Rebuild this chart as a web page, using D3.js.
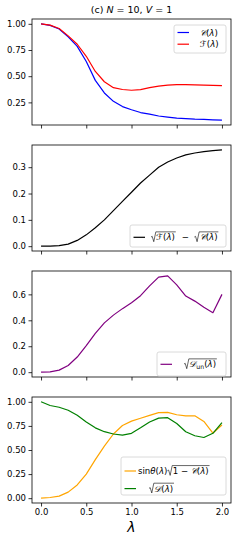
<!DOCTYPE html>
<html>
<head>
<meta charset="utf-8">
<script src="https://cdn.jsdelivr.net/npm/d3@7"></script>
<style>
  body { margin: 0; background: #fff; }
  svg { display: block; }
  text { font-family: "DejaVu Sans", sans-serif; fill: #000; }
</style>
</head>
<body>
<script>
// lambda grid
const lam = [0.0, 0.1, 0.2, 0.3, 0.4, 0.5, 0.6, 0.7, 0.8, 0.9, 1.0,
             1.1, 1.2, 1.3, 1.4, 1.5, 1.6, 1.7, 1.8, 1.9, 2.0];

// panel 1
const cVals = [1.0, 0.985, 0.95, 0.875, 0.785, 0.64, 0.46, 0.34, 0.26, 0.21, 0.18,
               0.153, 0.137, 0.12, 0.11, 0.10, 0.095, 0.09, 0.087, 0.083, 0.08];
const fVals = [1.0, 0.987, 0.955, 0.885, 0.805, 0.69, 0.545, 0.447, 0.39, 0.373, 0.366,
               0.372, 0.39, 0.405, 0.415, 0.42, 0.42, 0.418, 0.415, 0.412, 0.41];
// panel 2
const diffVals = [0, 0.0005, 0.002, 0.008, 0.022, 0.043, 0.07, 0.10, 0.135, 0.17, 0.205,
                  0.24, 0.27, 0.30, 0.32, 0.335, 0.347, 0.354, 0.359, 0.363, 0.366];
// panel 3
const dunVals = [0, 0.003, 0.016, 0.052, 0.117, 0.205, 0.30, 0.38, 0.44, 0.49, 0.535,
                 0.59, 0.665, 0.733, 0.743, 0.673, 0.587, 0.548, 0.50, 0.459, 0.60];
// panel 4
const sinVals = [0, 0.007, 0.021, 0.063, 0.137, 0.25, 0.40, 0.54, 0.666, 0.754, 0.80,
                 0.83, 0.86, 0.888, 0.89, 0.866, 0.855, 0.855, 0.796, 0.676, 0.76];
const dVals = [1.0, 0.962, 0.944, 0.913, 0.86, 0.79, 0.73, 0.69, 0.666, 0.655, 0.673,
               0.73, 0.79, 0.831, 0.835, 0.775, 0.69, 0.648, 0.63, 0.673, 0.785];

const xTicks = [0.0, 0.5, 1.0, 1.5, 2.0];
const yTicks1 = [0.25, 0.50, 0.75, 1.00];
const yTicks2 = [0.0, 0.1, 0.2, 0.3];
const yTicks3 = [0.0, 0.2, 0.4, 0.6];
const yTicks4 = [0.00, 0.25, 0.50, 0.75, 1.00];

const W = 240, H = 540;
const left = 32, right = 231;
const panelH = 106;
const tops = [19, 145, 271, 397];
const fs = 8.5;
const legFs = 8.6;

const svg = d3.select("body").append("svg").attr("width", W).attr("height", H);

const x = d3.scaleLinear().domain([-0.1, 2.1]).range([left, right]);

// math label pieces: string = italic, {u:..} upright, {sub:..} subscript, {sqrt:[...]}
function put(g, px, py, tok, size) {
  if (typeof tok === "string" || "u" in tok || "sub" in tok) {
    const isStr = typeof tok === "string";
    const isSub = !isStr && "sub" in tok;
    const s = isStr ? tok : (isSub ? tok.sub : tok.u);
    const sz = isSub ? size * 0.72 : size;
    const t = g.append("text")
      .attr("x", px).attr("y", isSub ? py + size * 0.22 : py)
      .attr("font-size", sz)
      .attr("font-style", isStr ? "italic" : "normal")
      .attr("xml:space", "preserve")
      .style("white-space", "pre")
      .text(s);
    return px + t.node().getComputedTextLength();
  }
  if (tok.sqrt) {
    const x0 = px;
    let cx = px + size * 0.62;
    tok.sqrt.forEach(c => { cx = put(g, cx, py, c, size); });
    cx += size * 0.1;
    g.append("path")
      .attr("d", "M" + x0 + "," + (py - size * 0.38) +
        "L" + (x0 + size * 0.14) + "," + (py - size * 0.46) +
        "L" + (x0 + size * 0.32) + "," + (py + size * 0.16) +
        "L" + (x0 + size * 0.56) + "," + (py - size * 0.98) +
        "L" + cx + "," + (py - size * 0.98))
      .attr("fill", "none").attr("stroke", "#000").attr("stroke-width", 0.6);
    return cx + size * 0.05;
  }
  return px;
}
function mathLabel(g, px, py, toks, size) {
  let cx = px;
  toks.forEach(t => { cx = put(g, cx, py, t, size); });
  return cx;
}

function panel(i, series, yTicks, fmt, legend, showX) {
  const top = tops[i];
  const all = series.flatMap(s => s.vals);
  const lo = d3.min(all), hi = d3.max(all), pad = (hi - lo) * 0.05;
  const y = d3.scaleLinear().domain([lo - pad, hi + pad]).range([top + panelH, top]);

  const g = svg.append("g");

  const line = d3.line()
    .x((d, k) => x(lam[k]))
    .y(d => y(d));

  series.forEach(s => {
    g.append("path")
      .datum(s.vals)
      .attr("d", line)
      .attr("fill", "none")
      .attr("stroke", s.color)
      .attr("stroke-width", 1.2)
      .attr("stroke-linejoin", "round");
  });

  const xAxis = d3.axisBottom(x).tickValues(xTicks).tickSize(3.5).tickPadding(2.5)
    .tickFormat(showX ? d3.format(".1f") : "");
  const gx = g.append("g")
    .attr("transform", "translate(0," + (top + panelH) + ")")
    .call(xAxis);

  const yAxis = d3.axisLeft(y).tickValues(yTicks).tickSize(3.5).tickPadding(2.5)
    .tickFormat(d3.format(fmt));
  const gy = g.append("g")
    .attr("transform", "translate(" + left + ",0)")
    .call(yAxis);

  [gx, gy].forEach(a => {
    a.select(".domain").remove();
    a.selectAll(".tick line").attr("stroke", "#000").attr("stroke-width", 0.8);
    a.selectAll("text").attr("font-size", fs).attr("font-family", "DejaVu Sans").attr("fill", "#000");
  });

  g.append("rect")
    .attr("x", left).attr("y", top)
    .attr("width", right - left).attr("height", panelH)
    .attr("fill", "none").attr("stroke", "#000").attr("stroke-width", 0.8);

  // legend
  const lg = g.append("g");
  lg.append("rect")
    .attr("x", legend.x).attr("y", top + legend.dy)
    .attr("width", legend.w).attr("height", legend.h)
    .attr("rx", 2).attr("fill", "#fff").attr("fill-opacity", 0.8)
    .attr("stroke", "#d0d0d0").attr("stroke-width", 0.8);
  series.forEach((s, k) => {
    const ly = top + legend.dy + legend.first + k * legend.step;
    lg.append("line")
      .attr("x1", legend.x + 3.5).attr("x2", legend.x + 15)
      .attr("y1", ly).attr("y2", ly)
      .attr("stroke", s.color).attr("stroke-width", 1.2);
    mathLabel(lg, s.tx, ly + 3, s.label, legFs);
  });
}

const calC = "\u{1D49E}", calF = "\u2131", calD = "\u{1D49F}";

panel(0, [
  { vals: cVals, color: "blue", tx: 200, label: [calC, { u: "(" }, "λ", { u: ")" }] },
  { vals: fVals, color: "red", tx: 200, label: [calF, { u: "(" }, "λ", { u: ")" }] }
], yTicks1, ".2f", { x: 174, dy: 6, w: 52, h: 28, first: 7.5, step: 11.7 }, false);

panel(1, [
  { vals: diffVals, color: "black", tx: 151,
    label: [{ sqrt: [calF, { u: "(" }, "λ", { u: ")" }] }, { u: "  −  " },
            { sqrt: [calC, { u: "(" }, "λ", { u: ")" }] }] }
], yTicks2, ".1f", { x: 130, dy: 80, w: 96, h: 22, first: 12.3, step: 0 }, false);

panel(2, [
  { vals: dunVals, color: "purple", tx: 184,
    label: [{ sqrt: [calD, { sub: "un" }, { u: "(" }, "λ", { u: ")" }] }] }
], yTicks3, ".1f", { x: 157, dy: 81, w: 69, h: 24, first: 12.3, step: 0 }, false);

panel(3, [
  { vals: sinVals, color: "orange", tx: 138,
    label: [{ u: "sin" }, "θ", { u: "(" }, "λ", { u: ")" },
            { sqrt: [{ u: "1 − " }, calC, { u: "(" }, "λ", { u: ")" }] }] },
  { vals: dVals, color: "green", tx: 149,
    label: [{ sqrt: [calD, { u: "(" }, "λ", { u: ")" }] }] }
], yTicks4, ".2f", { x: 121, dy: 60, w: 105, h: 38, first: 14, step: 17.6 }, true);

// title
const tt = svg.append("text").attr("x", (left + right) / 2).attr("y", 12.5)
  .attr("text-anchor", "middle").attr("font-size", 9.5);
tt.append("tspan").text("(c) ");
tt.append("tspan").attr("font-style", "italic").text("N");
tt.append("tspan").text(" = 10, ");
tt.append("tspan").attr("font-style", "italic").text("V");
tt.append("tspan").text(" = 1");

// x label
svg.append("text").attr("x", (left + right) / 2).attr("y", 532)
  .attr("text-anchor", "middle").attr("font-size", 14).attr("font-style", "italic")
  .text("λ");
</script>
</body>
</html>
